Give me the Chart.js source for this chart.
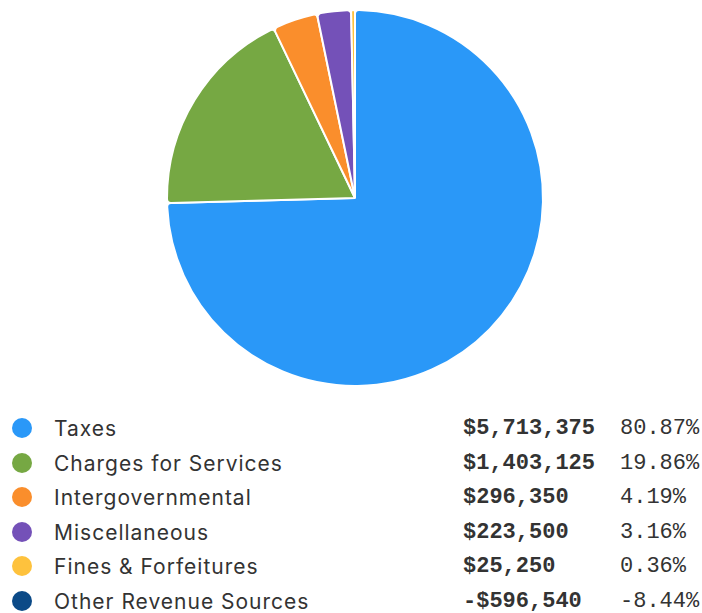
<!DOCTYPE html>
<html><head><meta charset="utf-8">
<script src="https://cdn.jsdelivr.net/npm/chart.js@4/dist/chart.umd.min.js"></script>
<style>
html,body{margin:0;padding:0;background:#fff;width:702px;height:613px;overflow:hidden;}
#wrap{position:absolute;left:0;top:0;width:702px;height:396px;}
#legend{position:absolute;left:0;top:412px;width:702px;}
.row{position:relative;height:34.6px;}
.dot{position:absolute;left:12px;top:6px;width:20px;height:20px;border-radius:50%;}
.lab{position:absolute;left:54px;top:0;line-height:34.6px;font-family:"Inter",sans-serif;font-size:21px;letter-spacing:1px;color:#333;}
.val{position:absolute;left:463px;top:0;line-height:34.6px;font-family:"Liberation Mono",monospace;font-weight:bold;font-size:22px;color:#333;}
.pct{position:absolute;left:620px;top:0;line-height:34.6px;font-family:"Liberation Mono",monospace;font-size:22px;color:#333;}
</style></head>
<body>
<div id="wrap"><canvas id="c"></canvas></div>
<div id="legend"></div>
<script>
const categories = ["Taxes","Charges for Services","Intergovernmental","Miscellaneous","Fines & Forfeitures","Other Revenue Sources"];
const amounts = [5713375,1403125,296350,223500,25250,-596540];
const percents = ["80.87%","19.86%","4.19%","3.16%","0.36%","-8.44%"];
const colors = ["#2A98F8","#76A843","#FA8E2C","#7451B8","#FEC23D","#0B4A87"];

// pie shows only positive amounts
const pieLabels = categories.filter((c,i)=>amounts[i]>0);
const pieValues = amounts.filter(v=>v>0);
const pieColors = colors.filter((c,i)=>amounts[i]>0);

function fmt(v){return (v<0?"-$":"$")+Math.abs(v).toLocaleString("en-US");}

new Chart(document.getElementById("c"),{
  type:"pie",
  data:{labels:pieLabels,datasets:[{data:pieValues,backgroundColor:pieColors,borderColor:"#fff",borderWidth:2,borderRadius:4,hoverOffset:0}]},
  options:{responsive:true,maintainAspectRatio:false,animation:false,
    layout:{padding:{top:9,bottom:9,left:8}},
    plugins:{legend:{display:false},tooltip:{enabled:false}}}
});

const lg=document.getElementById("legend");
categories.forEach((c,i)=>{
  const r=document.createElement("div");r.className="row";
  r.innerHTML='<span class="dot" style="background:'+colors[i]+'"></span><span class="lab"></span><span class="val"></span><span class="pct"></span>';
  r.querySelector(".lab").textContent=c;
  r.querySelector(".val").textContent=fmt(amounts[i]);
  r.querySelector(".pct").textContent=percents[i];
  lg.appendChild(r);
});
</script>
</body></html>
